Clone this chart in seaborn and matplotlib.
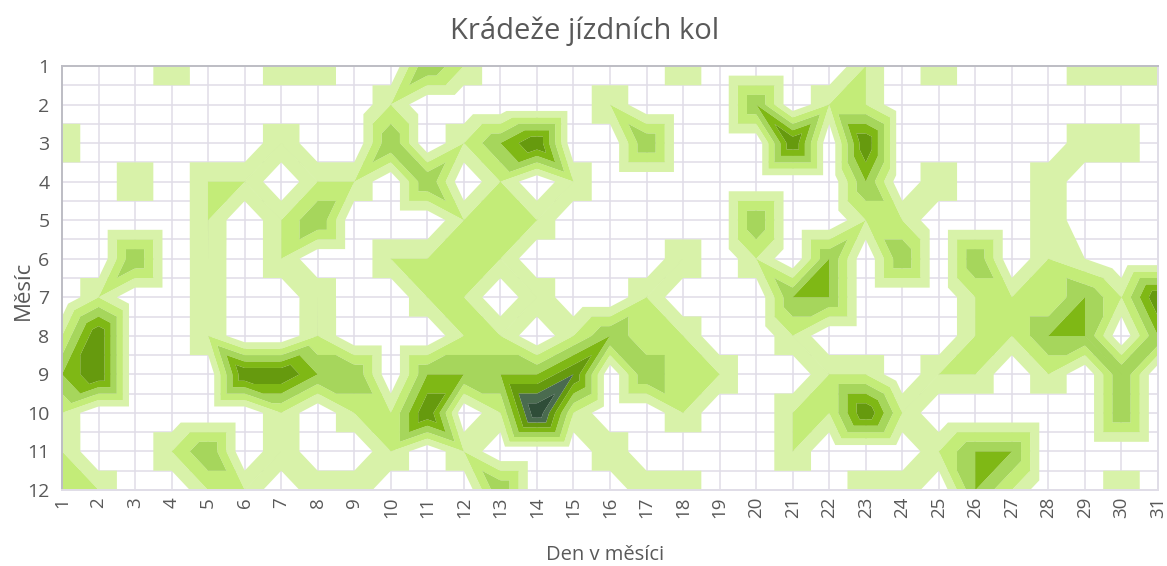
import numpy as np
import matplotlib
matplotlib.use("Agg")
import matplotlib.pyplot as plt
import matplotlib.tri as mtri
import seaborn as sns

# Values, one list per month, days 1-31
# (x.01 marks points where the next colour band just starts)
days = list(range(1, 32))
months = list(range(1, 13))
m01 = [0, 0, 0, 2, 0, 0, 2, 2, 0, 0, 4, 2, 0, 0, 0, 0, 0, 2, 0, 0, 0, 0, 2.01, 0, 2, 0, 0, 0, 2, 2, 2]
m02 = [0, 0, 0, 0, 0, 0, 0, 0, 0, 2, 0, 0, 0, 0, 0, 2, 0, 0, 0, 4, 0, 2.01, 2.01, 0, 0, 0, 0, 0, 0, 0, 0]
m03 = [2, 0, 0, 0, 0, 0, 2, 0, 0, 4, 0, 2, 4, 6, 0, 0, 4, 0, 0, 0, 6, 0, 6, 0, 0, 0, 0, 0, 2, 2, 0]
m04 = [0, 0, 2, 0, 2.01, 2.01, 0, 2.01, 2.01, 0, 4, 0, 2.01, 0, 2, 0, 0, 0, 0, 0, 0, 0, 4, 0, 2, 0, 0, 2, 0, 0, 0]
m05 = [0, 0, 0, 0, 2.01, 0, 2, 4, 0, 0, 0, 2.01, 2.01, 2.01, 0, 0, 0, 0, 0, 4, 0, 0, 2, 2, 0, 0, 0, 2, 0, 0, 0]
m06 = [0, 0, 4, 0, 2, 0, 2, 0, 0, 2.01, 2.01, 2.01, 2.01, 0, 0, 0, 0, 2, 0, 2, 0, 4.01, 0, 4, 0, 4, 0, 2, 1, 0, 0]
m07 = [0, 2, 0, 0, 2, 0, 0, 2, 0, 0, 2.01, 2.01, 0, 2, 0, 0, 2.01, 0, 0, 0, 4.01, 4.01, 0, 0, 0, 2.01, 2.01, 2.01, 4.01, 2, 6]
m08 = [2, 6, 0, 0, 2, 0, 0, 2.01, 0, 0, 0, 2.01, 2.01, 0, 2, 4, 2.01, 2.01, 0, 0, 2, 0, 0, 0, 0, 2.01, 2.01, 4.01, 4.01, 0, 4]
m09 = [4, 6, 0, 0, 0, 6, 6, 4, 4, 0, 4, 4, 4, 4, 6, 0, 4, 2.01, 2.01, 0, 0, 2.01, 2.01, 0, 2.01, 2.01, 0, 2, 0, 4, 0]
m10 = [2, 0, 0, 0, 0, 0, 2, 0, 2.01, 2.01, 6, 0, 2, 8, 2, 0, 0, 2.01, 0, 0, 2.01, 2.01, 6, 2, 0, 0, 0, 0, 0, 4, 0]
m11 = [2.01, 0, 0, 2, 4, 0, 2, 0, 0, 2, 0, 2, 0, 0, 0, 2, 0, 0, 0, 0, 2.01, 0, 0, 0, 2, 4.01, 4.01, 0, 0, 0, 0]
m12 = [2.01, 2.01, 0, 0, 2.01, 2.01, 0, 2, 2, 0, 0, 0, 4, 0, 0, 0, 2, 2, 0, 0, 0, 0, 2, 2, 0, 4.01, 2, 0, 0, 2, 0]
title_text = "Krádeže jízdních kol"
x_label = "Den v měsíci"
y_label = "Měsíc"

band_levels = [1, 2, 3, 4, 5, 6, 7, 8.01]
band_colors = ["#d8f2a9", "#c3ec78", "#a6d65c", "#7fb815", "#669a0e", "#4a6b4f", "#2f4d38"]
grid_color = "#e0dde7"
text_color = "#595959"

sns.set_theme(style="white")
plt.rcParams["font.family"] = ["Open Sans", "DejaVu Sans"]

z = np.array([m01, m02, m03, m04, m05, m06, m07, m08, m09, m10, m11, m12], dtype=float)

# Split every grid cell in four triangles round its centre;
# the larger diagonal mean gives the blocky Excel contour look
nrow, ncol = z.shape
xs, ys = np.meshgrid(days, months)
px = list(xs.ravel().astype(float))
py = list(ys.ravel().astype(float))
pz = list(z.ravel())
tris = []
for r in range(nrow - 1):
    for c in range(ncol - 1):
        i0 = r * ncol + c
        i1 = i0 + 1
        i2 = i1 + ncol
        i3 = i0 + ncol
        k = len(px)
        px.append(days[c] + 0.5)
        py.append(months[r] + 0.5)
        pz.append(max((pz[i0] + pz[i2]) / 2, (pz[i1] + pz[i3]) / 2))
        tris += [[i0, i1, k], [i1, i2, k], [i2, i3, k], [i3, i0, k]]
mesh = mtri.Triangulation(px, py, tris)

fig = plt.figure(figsize=(11.67, 5.66), dpi=100)
ax = fig.add_axes([62 / 1167, 1 - 490 / 566, (1158 - 62) / 1167, (490 - 66) / 566])

ax.set_axisbelow(True)
ax.set_xticks(days)
ax.set_yticks(months)
ax.set_yticks(np.array(months[:-1]) + 0.5, minor=True)
ax.grid(True, which="both", color=grid_color, linewidth=1.1)
ax.tricontourf(mesh, pz, levels=band_levels, colors=band_colors, antialiased=True, zorder=2)

ax.set_xlim(1, 31)
ax.set_ylim(12, 1)
ax.tick_params(axis="x", labelrotation=90, labelsize=13.5, labelcolor=text_color, length=0, pad=5)
ax.tick_params(axis="y", labelsize=14, labelcolor=text_color, length=0, pad=9)
ax.tick_params(which="minor", length=0)
for name, spine in ax.spines.items():
    spine.set_color("#bdbdc4")
    spine.set_linewidth(1.4)
    spine.set_zorder(3)
ax.spines["right"].set_color(grid_color)
ax.spines["bottom"].set_color(grid_color)

fig.text(585 / 1167, 1 - 31 / 566, title_text, fontsize=21, color=text_color, ha="center", va="center")
fig.text(605 / 1167, 1 - 555 / 566, x_label, fontsize=14.5, color=text_color, ha="center", va="center")
fig.text(23 / 1167, 1 - 290 / 566, y_label, fontsize=16, color=text_color, rotation=90, ha="center", va="center")

fig.savefig("out.png", dpi=100)
